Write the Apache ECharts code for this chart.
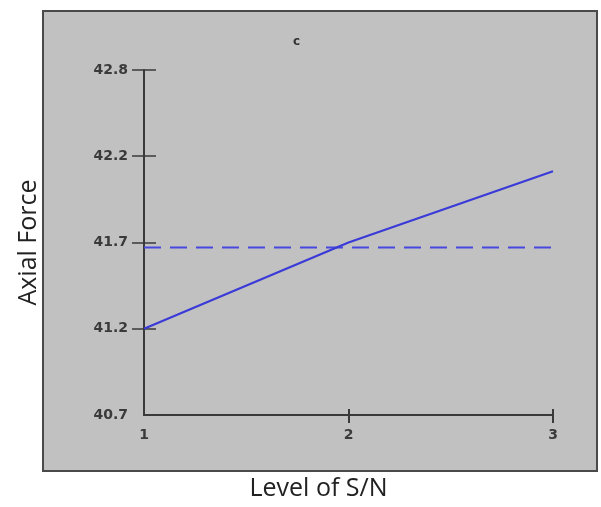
<!DOCTYPE html>
<html>
<head>
<meta charset="utf-8">
<script src="https://cdn.jsdelivr.net/npm/echarts@6/dist/echarts.min.js"></script>
<style>
html,body{margin:0;padding:0;background:#fff;}
#chart{width:601px;height:507px;}
</style>
</head>
<body>
<div id="chart"></div>
<script>
// Data
var levels = [1, 2, 3];
var axialForce = [41.20, 41.72, 42.15];
var meanValue = [41.69];
var xTicks = [1, 2, 3];
var yTicks = [40.68, 41.20, 41.72, 42.24, 42.76];

var chart = echarts.init(document.getElementById('chart'), null, {renderer: 'canvas'});

var lineData = levels.map(function (x, i) { return [x, axialForce[i]]; });
var meanData = [[levels[0], meanValue[0]], [levels[levels.length - 1], meanValue[0]]];

var labelFont = {color: '#3a3a3a', fontFamily: 'DejaVu Sans', fontWeight: 'bold', fontSize: 14};

var option = {
  animation: false,
  backgroundColor: '#ffffff',
  title: {
    text: 'c',
    left: 288,
    top: 31,
    textStyle: {color: '#333', fontFamily: 'DejaVu Sans', fontWeight: 'bold', fontSize: 12}
  },
  graphic: [{
    type: 'rect',
    z: -100,
    silent: true,
    shape: {x: 43, y: 11, width: 554, height: 460},
    style: {fill: '#c1c1c1', stroke: '#4a4a4a', lineWidth: 2}
  }],
  grid: {left: 144, right: 48, top: 70, bottom: 92},
  xAxis: [{
    type: 'value',
    min: 1, max: 3, interval: 1,
    name: 'Level of S/N',
    nameLocation: 'middle',
    nameGap: 61,
    nameTextStyle: {color: '#222', fontFamily: 'Open Sans', fontSize: 25, padding: [0, 60, 0, 0]},
    axisLine: {show: true, lineStyle: {color: '#3a3a3a', width: 2}},
    axisTick: {show: true, inside: false, length: 8, lineStyle: {color: '#3a3a3a', width: 2}, customValues: [2, 3]},
    axisLabel: Object.assign({margin: 13, customValues: xTicks}, labelFont),
    splitLine: {show: false}
  }, {
    type: 'value',
    position: 'bottom',
    min: 1, max: 3, interval: 1,
    axisLine: {show: false},
    axisTick: {show: true, inside: true, length: 6, lineStyle: {color: '#3a3a3a', width: 2}, customValues: [2, 3]},
    axisLabel: {show: false},
    splitLine: {show: false}
  }],
  yAxis: [{
    type: 'value',
    min: 40.68, max: 42.76,
    name: 'Axial Force',
    nameLocation: 'middle',
    nameGap: 103,
    nameRotate: 90,
    nameTextStyle: {color: '#222', fontFamily: 'Open Sans', fontSize: 25},
    axisLine: {show: true, lineStyle: {color: '#3a3a3a', width: 2}},
    axisTick: {show: true, inside: false, length: 12, lineStyle: {color: '#3a3a3a', width: 1.5}, customValues: yTicks.slice(1)},
    axisLabel: Object.assign({
      margin: 16,
      customValues: yTicks,
      formatter: function (v) { return v.toFixed(1); }
    }, labelFont),
    splitLine: {show: false}
  }, {
    type: 'value',
    position: 'left',
    min: 40.68, max: 42.76,
    axisLine: {show: false},
    axisTick: {show: true, inside: true, length: 12, lineStyle: {color: '#3a3a3a', width: 1.5}, customValues: yTicks.slice(1)},
    axisLabel: {show: false},
    splitLine: {show: false}
  }],
  series: [{
    type: 'line',
    xAxisIndex: 0, yAxisIndex: 0,
    data: lineData,
    showSymbol: false,
    symbol: 'none',
    lineStyle: {color: '#3a3ad8', width: 2.2},
    z: 5
  }, {
    type: 'line',
    xAxisIndex: 0, yAxisIndex: 0,
    data: meanData,
    showSymbol: false,
    symbol: 'none',
    lineStyle: {color: '#4848e0', width: 2, type: [17, 9]},
    z: 4
  }]
};
chart.setOption(option);
</script>
</body>
</html>
